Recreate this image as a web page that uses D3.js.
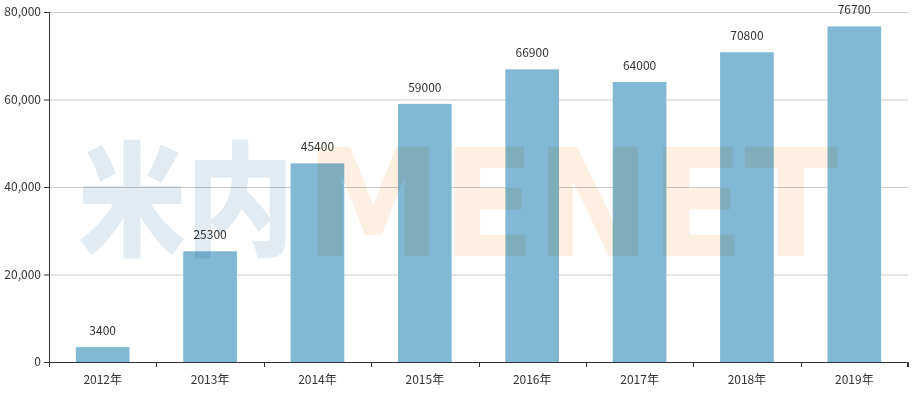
<!DOCTYPE html>
<html>
<head>
<meta charset="utf-8">
<script src="https://cdn.jsdelivr.net/npm/d3@7"></script>
<style>
  body { margin: 0; background: #fff; }
  svg text { font-family: "Noto Sans CJK SC", "Open Sans", sans-serif; }
</style>
</head>
<body>
<div id="chart"></div>
<script>
// chart data
const years = ['2012年', '2013年', '2014年', '2015年', '2016年', '2017年', '2018年', '2019年']
const values = [3400, 25300, 45400, 59000, 66900, 64000, 70800, 76700]
const yTicks = [0, 20000, 40000, 60000, 80000]

const width = 916
const height = 394
const margin = { top: 12, right: 8, bottom: 32, left: 49 }

const svg = d3.select('#chart')
  .append('svg')
  .attr('width', width)
  .attr('height', height)

const x = d3.scaleBand()
  .domain(years)
  .range([margin.left, width - margin.right])
  .paddingInner(0.5)
  .paddingOuter(0.25)

const y = d3.scaleLinear()
  .domain([0, 80000])
  .range([height - margin.bottom, margin.top])

// grid lines
svg.append('g')
  .selectAll('line')
  .data(yTicks.filter(d => d > 0))
  .join('line')
  .attr('x1', margin.left)
  .attr('x2', width - margin.right)
  .attr('y1', d => y(d) + 0.5)
  .attr('y2', d => y(d) + 0.5)
  .attr('stroke', '#ccc')

// bars
svg.append('g')
  .selectAll('rect')
  .data(values)
  .join('rect')
  .attr('x', (d, i) => x(years[i]))
  .attr('y', d => y(d))
  .attr('width', x.bandwidth())
  .attr('height', d => y(0) - y(d))
  .attr('fill', '#81b9d4')

// watermark over the bars
const wm = svg.append('g')
wm.append('text')
  .attr('x', 78)
  .attr('y', 246)
  .attr('font-size', 124)
  .attr('font-weight', 900)
  .attr('textLength', 216)
  .attr('lengthAdjust', 'spacingAndGlyphs')
  .attr('fill', '#e1ebf1')
  .style('mix-blend-mode', 'multiply')
  .text('米内')
wm.append('text')
  .attr('x', 305)
  .attr('y', 256)
  .attr('font-size', 150)
  .attr('font-weight', 'bold')
  .attr('textLength', 533)
  .attr('lengthAdjust', 'spacingAndGlyphs')
  .attr('fill', '#fdefe2')
  .style('font-family', '"DejaVu Sans", sans-serif')
  .style('mix-blend-mode', 'multiply')
  .text('MENET')

// value labels
svg.append('g')
  .selectAll('text')
  .data(values)
  .join('text')
  .attr('x', (d, i) => x(years[i]) + x.bandwidth() / 2)
  .attr('y', d => y(d) - 12)
  .attr('text-anchor', 'middle')
  .attr('font-size', 12)
  .attr('fill', '#333')
  .text(d => d)

// axes
const xAxis = svg.append('g')
  .attr('transform', `translate(0,${y(0)})`)
  .call(d3.axisBottom(x).tickSize(0).tickPadding(13))
xAxis.selectAll('text').attr('font-size', 12).attr('fill', '#333')
xAxis.select('.domain').attr('stroke', '#333')
  .attr('d', `M${margin.left + 0.5},5V0.5H${width - margin.right - 0.5}V5`)
// ticks between the bands
xAxis.append('g')
  .selectAll('line')
  .data(d3.range(years.length + 1))
  .join('line')
  .attr('x1', i => Math.round(margin.left + i * (width - margin.left - margin.right) / years.length) + 0.5)
  .attr('x2', i => Math.round(margin.left + i * (width - margin.left - margin.right) / years.length) + 0.5)
  .attr('y1', 0)
  .attr('y2', 5)
  .attr('stroke', '#333')

const yAxis = svg.append('g')
  .attr('transform', `translate(${margin.left},0)`)
  .call(d3.axisLeft(y).tickValues(yTicks).tickFormat(d3.format(',')).tickSize(5).tickPadding(3))
yAxis.selectAll('text').attr('font-size', 12).attr('fill', '#333')
yAxis.selectAll('line').attr('stroke', '#333')
yAxis.select('.domain').attr('stroke', '#333').attr('d', `M0.5,${margin.top}V${y(0)}`)
</script>
</body>
</html>
